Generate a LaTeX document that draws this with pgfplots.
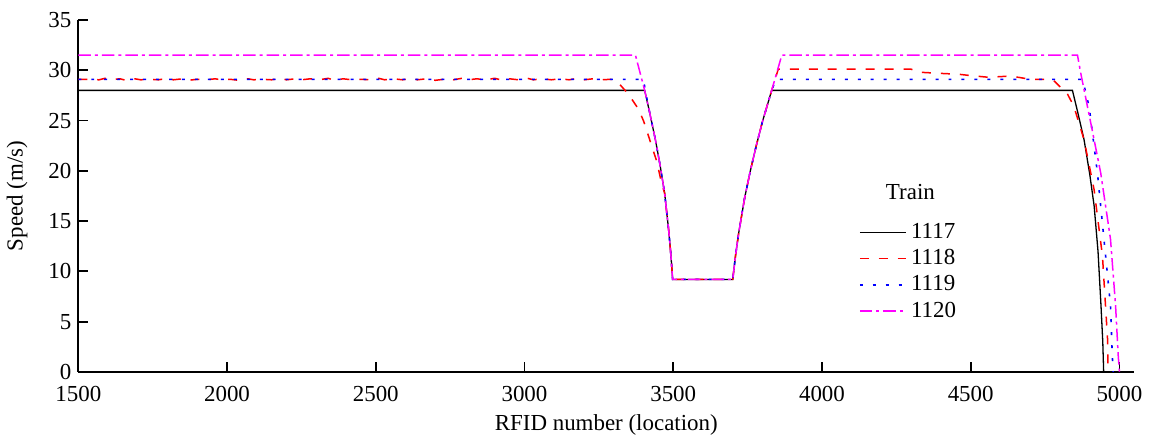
\documentclass[border=0pt]{standalone}
\usepackage{pgfplots}
\pgfplotsset{compat=1.18}
\usepackage{fontspec}
\setmainfont{Liberation Serif}
\definecolor{cred}{RGB}{255,0,0}
\definecolor{cblue}{RGB}{0,0,255}
\definecolor{cmag}{RGB}{255,0,255}
\begin{document}
\begin{tikzpicture}
\begin{axis}[
  scale only axis,
  width=529.5pt, height=176.5pt,
  xmin=1500, xmax=5050, ymin=0, ymax=35,
  axis x line*=bottom, axis y line*=left,
  axis line style={line width=0.9pt},
  tick align=inside,
  major tick length=5pt,
  every tick/.style={line width=0.9pt, black},
  xtick={1500,2000,...,5000}, ytick={0,5,...,35},
  minor tick num=0,
  /pgf/number format/assume math mode=true,
  /pgf/number format/1000 sep={},
  tick label style={font=\fontsize{11.5}{13}\selectfont},
  xticklabel style={yshift=-3.5pt},
  xlabel={RFID number (location)},
  ylabel={Speed (m/s)},
  every axis x label/.style={at={(axis description cs:0.5,-0.152)},anchor=center,font=\fontsize{11.5}{13}\selectfont},
  every axis y label/.style={at={(axis description cs:-0.058,0.5)},rotate=90,anchor=center,font=\fontsize{11.5}{13}\selectfont},
  clip=false,
  legend cell align=left,
  legend style={draw=none, fill=none, at={(rel axis cs:0.737,0.44)}, anchor=north west,
    font=\fontsize{11.5}{13}\selectfont, row sep=0pt, inner sep=1pt},
  legend image code/.code={\draw[#1] (0cm,0cm) -- (0.82cm,0cm);},
]
% 1117
\addplot[black, line width=0.65pt, solid] coordinates {
(1500,28) (3404,28) (3420,25.9) (3440,23.1) (3455,20.7) (3471,17.8) (3485,14.0) (3492,11.7) (3498,9.2)
(3700,9.2) (3710,11.7) (3720,13.8) (3740,17.3) (3760,20.1) (3780,22.6) (3800,24.9) (3815,26.4) (3831,28.0)
(4842,28) (4860,25.8) (4881,23.1) (4900,19.7) (4915,16.5) (4928,12.0) (4938,6.6) (4944,3.0) (4947,0)
};
\addlegendentry{1117}
% 1118
\addplot[cred, line width=0.75pt, dash pattern=on 4.5pt off 5pt] coordinates {
(1500,29.1) (1540,29.1) (1570,29.05) (1590,29.2) (1610,29.05) (1640,29.15) (1660,29.0) (1690,29.15) (1710,29.05)
(1740,29.1) (1770,29.05) (1800,29.2) (1820,29.05) (1850,29.15) (1870,29.0) (1900,29.1) (1930,29.05) (1960,29.15)
(1980,29.05) (2010,29.1) (2040,29.0) (2070,29.15) (2090,29.05) (2120,29.1) (2150,29.05) (2180,29.2) (2200,29.05)
(2230,29.15) (2250,29.05) (2280,29.15) (2310,29.05) (2340,29.2) (2360,29.0) (2390,29.15) (2420,29.05) (2450,29.1)
(2480,29.05) (2510,29.2) (2530,29.05) (2560,29.15) (2590,29.05) (2620,29.2) (2640,29.05) (2670,29.15) (2700,29.0)
(2730,29.1) (2760,29.05) (2790,29.2) (2810,29.05) (2840,29.15) (2870,29.05) (2900,29.2) (2920,29.05) (2950,29.15)
(2980,29.05) (3010,29.2) (3030,29.05) (3060,29.15) (3090,29.05) (3120,29.15) (3150,29.05) (3180,29.2) (3200,29.05)
(3230,29.15) (3260,29.05) (3290,29.1)
(3300,29.0) (3317,28.7) (3350,27.6) (3384,26.1) (3401,24.9) (3423,22.9) (3445,20.9) (3462,18.6) (3471,17.8)
(3485,14.0) (3492,11.7) (3498,9.2)
(3700,9.2) (3710,11.7) (3720,13.8) (3740,17.3) (3760,20.1) (3780,22.6) (3800,24.9) (3815,26.4) (3831,28.0) (3853,30.1)
(4300,30.1) (4330,29.8) (4390,29.7) (4460,29.6) (4490,29.5) (4560,29.3) (4620,29.4) (4660,29.3) (4700,29.1)
(4770,29.1) (4782,28.9) (4809,28.1) (4826,27.6) (4847,26.4) (4881,23.1) (4915,18.1) (4943,11.5) (4960,3.3) (4962,0)
};
\addlegendentry{1118}
% 1119
\addplot[cblue, line width=0.8pt, dash pattern=on 1.5pt off 5pt] coordinates {
(1500,29.1) (3400,29.1) (3406,28.0) (3420,25.9) (3440,23.1) (3455,20.7) (3471,17.8) (3485,14.0) (3492,11.7) (3498,9.2)
(3700,9.2) (3710,11.7) (3720,13.8) (3740,17.3) (3760,20.1) (3780,22.6) (3800,24.9) (3815,26.4) (3831,28.0) (3845,29.1)
(4876,29.1) (4898,26.4) (4926,19.8) (4948,13.2) (4970,6.6) (4976,1.6) (4979,0)
};
\addlegendentry{1119}
% 1120
\addplot[cmag, line width=0.75pt, dash pattern=on 6.3pt off 2pt on 1.5pt off 2pt] coordinates {
(1500,31.5) (3373,31.5) (3404,28.0) (3420,25.9) (3440,23.1) (3455,20.7) (3471,17.8) (3485,14.0) (3492,11.7) (3498,9.2)
(3700,9.2) (3710,11.7) (3720,13.8) (3740,17.3) (3760,20.1) (3780,22.6) (3800,24.9) (3815,26.4) (3831,28.0) (3865,31.5)
(4859,31.5) (4870,29.7) (4904,24.7) (4937,19.8) (4970,13.2) (4987,6.6) (4996,1.6) (5000,0)
};
\addlegendentry{1120}
\node[font=\fontsize{11.5}{13}\selectfont] at (rel axis cs:0.788,0.51) {Train};
\coordinate (bl) at (rel axis cs:-0.0737,-0.1813);
\coordinate (tr) at (rel axis cs:1.0113,1.0567);
\end{axis}
\path (bl) rectangle (tr);
\end{tikzpicture}
\end{document}
